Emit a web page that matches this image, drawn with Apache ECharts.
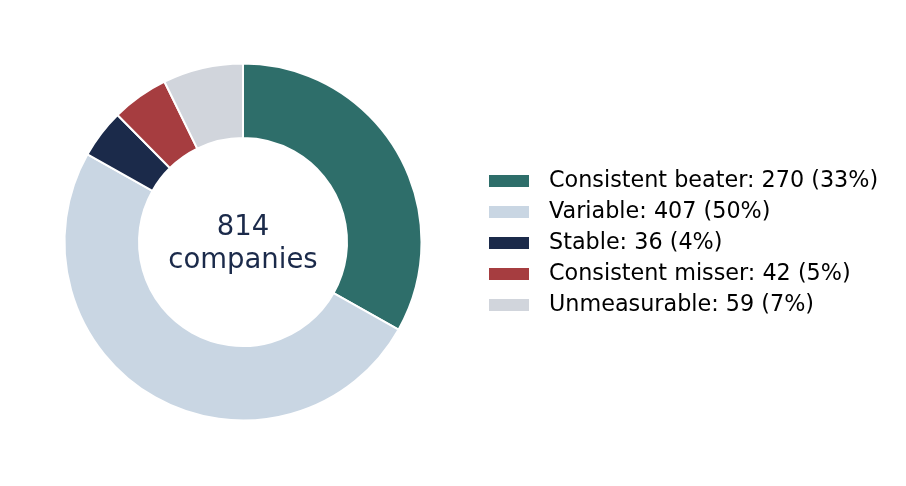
<!DOCTYPE html>
<html><head><meta charset="utf-8">
<script src="https://cdn.jsdelivr.net/npm/echarts@6/dist/echarts.min.js"></script>
<style>html,body{margin:0;padding:0;background:#fff}#c{width:906px;height:486px}</style>
</head><body><div id="c"></div>
<script>
const categories = ["Consistent beater", "Variable", "Stable", "Consistent misser", "Unmeasurable"];
const values = [270, 407, 36, 42, 59];
const percents = [33, 50, 4, 5, 7];
const colors = ["#2e6e6a", "#c9d6e3", "#1b2a4a", "#a63d40", "#d1d5dc"];
const total = 814;
const centerLabel = "companies";

const chart = echarts.init(document.getElementById('c'), null, {renderer: 'canvas'});
const data = categories.map((n, i) => ({name: n, value: values[i], itemStyle: {color: colors[i]}}));
chart.setOption({
  animation: false,
  backgroundColor: '#fff',
  legend: {
    orient: 'vertical',
    left: 482,
    top: 165,
    itemWidth: 42,
    itemHeight: 14,
    itemGap: 9,
    icon: 'rect',
    data: categories,
    formatter: function (name) {
      const i = categories.indexOf(name);
      return name + ': ' + values[i] + ' (' + percents[i] + '%)';
    },
    textStyle: {fontFamily: 'DejaVu Sans', fontSize: 22.3, color: '#000', padding: [0, 0, 0, 14], lineHeight: 22}
  },
  graphic: [{
    type: 'text',
    x: 243, y: 244,
    style: {
      text: total + '\n' + centerLabel,
      align: 'center', verticalAlign: 'middle',
      fontFamily: 'DejaVu Sans', fontSize: 27.5, lineHeight: 33,
      fill: '#1b2a4a'
    }
  }],
  series: [{
    type: 'pie',
    center: [243, 242],
    radius: [104, 178.5],
    startAngle: 90,
    clockwise: true,
    label: {show: false},
    labelLine: {show: false},
    emphasis: {disabled: true},
    itemStyle: {borderColor: '#fff', borderWidth: 2},
    data: data
  }]
});
</script></body></html>
